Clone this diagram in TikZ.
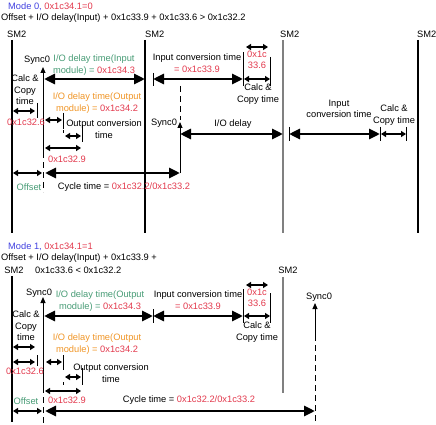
\documentclass[tikz,border=0pt]{standalone}
\usepackage{fontspec}
\setmainfont{Liberation Sans}
\usetikzlibrary{arrows.meta}
\definecolor{modeblue}{RGB}{64,64,224}
\definecolor{valred}{RGB}{226,56,76}
\definecolor{delaygreen}{RGB}{72,156,118}
\definecolor{delayorange}{RGB}{240,150,40}

\begin{document}
\begin{tikzpicture}[x=1pt,y=-1pt,
  txt/.style={font=\fontsize{9.3}{11.5}\selectfont, inner sep=0pt, align=center},
  big/.style={line width=2.8pt, {Triangle[length=11pt,width=10pt]}-{Triangle[length=11pt,width=10pt]}},
  small/.style={line width=1.5pt, {Triangle[length=5pt,width=6pt]}-{Triangle[length=5pt,width=6pt]}},
  sm2line/.style={line width=1.1pt},
  tickline/.style={line width=0.8pt},
  syncarrow/.style={line width=1pt, -{Triangle[length=6pt,width=5pt]}},
  syncdash/.style={line width=1pt, dash pattern=on 6pt off 4pt}]

\useasboundingbox (0,0) rectangle (436,425);

% ---------------- Mode 0 ----------------
\node[txt,anchor=west] (mode0) at (8,7) {\textcolor{modeblue}{Mode 0,} \textcolor{valred}{0x1c34.1=0}};
\node[txt,anchor=west] (cond0) at (1,18) {Offset + I/O delay(Input) + 0x1c33.9 + 0x1c33.6 > 0x1c32.2};

\node[txt,anchor=west] (sm2a) at (7,34) {SM2};
\node[txt,anchor=west] (sm2b) at (145,34) {SM2};
\node[txt,anchor=west] (sm2c) at (280,34) {SM2};
\node[txt,anchor=west] (sm2d) at (417,34) {SM2};

\coordinate (a1) at (12,40);  \coordinate (a2) at (12,233);
\coordinate (b1) at (145,40); \coordinate (b2) at (145,233);
\coordinate (c1) at (283,40); \coordinate (c2) at (283,233);
\coordinate (d1) at (418,40); \coordinate (d2) at (418,233);
\draw[sm2line] (a1)--(a2);
\draw[sm2line] (b1)--(b2);
\draw[sm2line,gray] (c1)--(c2);
\draw[sm2line] (d1)--(d2);

% Sync0 (left)
\node[txt] (syncA) at (37,60) {Sync0};
\coordinate (sA1) at (43,67); \coordinate (sA2) at (43,152); \coordinate (sA3) at (43,192);
\draw[syncarrow] (sA2)--(sA1);
\draw[syncdash] (sA2)--(sA3);

% I/O delay time (input module)
\node[txt] (ioin) at (94,65) {\textcolor{delaygreen}{I/O delay time(Input}\\\textcolor{delaygreen}{module) =} \textcolor{valred}{0x1c34.3}};
\coordinate (ioin1) at (44,79); \coordinate (ioin2) at (145,79);
\draw[big] (ioin1)--(ioin2);

% input conversion time
\node[txt] (convA) at (197,63) {Input conversion time\\\textcolor{valred}{= 0x1c33.9}};
\coordinate (t1a) at (153,73); \coordinate (t1b) at (153,86);
\draw[tickline] (t1a)--(t1b);
\coordinate (cvA1) at (153,79); \coordinate (cvA2) at (243,79);
\draw[big] (cvA1)--(cvA2);

% 0x1c33.6, calc & copy
\coordinate (t2a) at (243,52); \coordinate (t2b) at (243,86);
\coordinate (t3a) at (270,57); \coordinate (t3b) at (270,86);
\draw[tickline] (t2a)--(t2b);
\draw[tickline] (t3a)--(t3b);
\coordinate (topA1) at (246,47); \coordinate (topA2) at (268,47);
\draw[small] (topA1)--(topA2);
\node[txt,text=valred] (c336A) at (257,60) {0x1c\\33.6};
\coordinate (ccA1) at (244,79); \coordinate (ccA2) at (270,79);
\draw[small] (ccA1)--(ccA2);
\node[txt] (calcA) at (258,94) {Calc \&\\Copy time};

% Sync0 (middle)
\coordinate (dsh1) at (180,86); \coordinate (dsh2) at (180,120);
\draw[syncdash] (dsh1)--(dsh2);
\node[txt] (syncB) at (164,123) {Sync0};
\coordinate (sB1) at (180,122); \coordinate (sB2) at (180,173);
\draw[syncarrow] (sB2)--(sB1);

% I/O delay
\node[txt] (iodel) at (233,124) {I/O delay};
\coordinate (iod1) at (180,134); \coordinate (iod2) at (283,134);
\draw[big] (iod1)--(iod2);

% input conversion time (second)
\coordinate (t4a) at (289,127); \coordinate (t4b) at (289,141);
\coordinate (t5a) at (380,127); \coordinate (t5b) at (380,141);
\coordinate (t6a) at (406,127); \coordinate (t6b) at (406,141);
\draw[tickline] (t4a)--(t4b);
\draw[tickline] (t5a)--(t5b);
\draw[tickline] (t6a)--(t6b);
\node[txt] (convB) at (339,109) {Input\\conversion time};
\coordinate (cvB1) at (289,134); \coordinate (cvB2) at (380,134);
\draw[big] (cvB1)--(cvB2);
\node[txt] (calcB) at (394,115) {Calc \&\\Copy time};
\coordinate (ccB1) at (381,134); \coordinate (ccB2) at (406,134);
\draw[small] (ccB1)--(ccB2);

% calc & copy (left)
\node[txt] (calcL) at (25,90) {Calc \&\\Copy\\time};
\coordinate (clA1) at (13,111); \coordinate (clA2) at (35,111);
\draw[small] (clA1)--(clA2);
\coordinate (t7a) at (37,103); \coordinate (t7b) at (37,118);
\draw[tickline] (t7a)--(t7b);
\node[txt,text=valred] (c326A) at (26,122) {0x1c32.6};

% I/O delay time (output module)
\node[txt] (ioout) at (97,103) {\textcolor{delayorange}{I/O delay time(Output}\\\textcolor{delayorange}{module) =} \textcolor{valred}{0x1c34.2}};
\coordinate (odA1) at (45,120); \coordinate (odA2) at (62,120);
\draw[small] (odA1)--(odA2);
\coordinate (t8a) at (63,113); \coordinate (t8b) at (63,129);
\draw[tickline] (t8a)--(t8b);
\coordinate (dotA1) at (63,130); \coordinate (dotA2) at (63,133);
\draw[tickline] (dotA1)--(dotA2);

% output conversion time
\node[txt] (ocA) at (104,129) {Output conversion\\time};
\coordinate (ocA1) at (65,136); \coordinate (ocA2) at (81,136);
\draw[small] (ocA1)--(ocA2);
\coordinate (t9a) at (82,125); \coordinate (t9b) at (82,142);
\draw[tickline] (t9a)--(t9b);

% 0x1c32.9
\coordinate (c9A1) at (45,148); \coordinate (c9A2) at (81,148);
\draw[small] (c9A1)--(c9A2);
\node[txt,text=valred] (c329A) at (67,159) {0x1c32.9};

% offset, cycle time
\coordinate (ofA1) at (13,173); \coordinate (ofA2) at (42,173);
\draw[small] (ofA1)--(ofA2);
\node[txt,text=delaygreen] (offA) at (29,187) {Offset};
\coordinate (cyA1) at (45,173); \coordinate (cyA2) at (180,173);
\draw[big] (cyA1)--(cyA2);
\node[txt] (cycA) at (124,187) {Cycle time = \textcolor{valred}{0x1c32.2/0x1c33.2}};

% ---------------- Mode 1 ----------------
\node[txt,anchor=west] (mode1) at (8,247) {\textcolor{modeblue}{Mode 1,} \textcolor{valred}{0x1c34.1=1}};
\node[txt,anchor=west] (cond1) at (1,258) {Offset + I/O delay(Input) + 0x1c33.9 +};
\node[txt] (sm2e) at (14,270) {SM2};
\node[txt,anchor=west] (cond1b) at (35,270) {0x1c33.6 < 0x1c32.2};
\node[txt] (sm2f) at (288,270) {SM2};

\coordinate (e1) at (12,276);  \coordinate (e2) at (12,422);
\coordinate (f1) at (283,277); \coordinate (f2) at (283,393);
\draw[sm2line] (e1)--(e2);
\draw[sm2line,gray] (f1)--(f2);

% Sync0 (left)
\node[txt] (syncC) at (39,293) {Sync0};
\coordinate (sC1) at (43,297); \coordinate (sC2) at (43,387); \coordinate (sC3) at (43,423);
\draw[syncarrow] (sC2)--(sC1);
\draw[syncdash] (sC2)--(sC3);

% I/O delay time (output module)
\node[txt] (iooutB) at (100,301) {\textcolor{delaygreen}{I/O delay time(Output}\\\textcolor{delaygreen}{module) =} \textcolor{valred}{0x1c34.3}};
\coordinate (iob1) at (44,316); \coordinate (iob2) at (153,316);
\draw[big] (iob1)--(iob2);
\coordinate (u1a) at (153,309); \coordinate (u1b) at (153,323);
\draw[tickline] (u1a)--(u1b);

% input conversion time
\node[txt] (convC) at (198,300) {Input conversion time\\\textcolor{valred}{= 0x1c33.9}};
\coordinate (cvC1) at (153,316); \coordinate (cvC2) at (243,316);
\draw[big] (cvC1)--(cvC2);

% 0x1c33.6, calc & copy
\coordinate (u2a) at (243,289); \coordinate (u2b) at (243,323);
\coordinate (u3a) at (270,293); \coordinate (u3b) at (270,323);
\draw[tickline] (u2a)--(u2b);
\draw[tickline] (u3a)--(u3b);
\coordinate (topC1) at (246,285); \coordinate (topC2) at (268,285);
\draw[small] (topC1)--(topC2);
\node[txt,text=valred] (c336C) at (257,298) {0x1c\\33.6};
\coordinate (ccC1) at (244,316); \coordinate (ccC2) at (270,316);
\draw[small] (ccC1)--(ccC2);
\node[txt] (calcC) at (257,332) {Calc \&\\Copy time};

% Sync0 (right)
\node[txt] (syncD) at (319,297) {Sync0};
\coordinate (sD1) at (315,303); \coordinate (sD2) at (315,335); \coordinate (sD3) at (315,425);
\draw[syncarrow] (sD2)--(sD1);
\draw[syncdash] (sD2)--(sD3);

% calc & copy (left)
\node[txt] (calcLB) at (26,326) {Calc \&\\Copy\\time};
\coordinate (clB1) at (13,347); \coordinate (clB2) at (35,347);
\draw[small] (clB1)--(clB2);
\coordinate (clC1) at (13,362); \coordinate (clC2) at (35,362);
\draw[small] (clC1)--(clC2);
\coordinate (u7a) at (37,355); \coordinate (u7b) at (37,366);
\draw[tickline] (u7a)--(u7b);
\node[txt,text=valred] (c326B) at (25,371) {0x1c32.6};

% I/O delay time (output module)
\node[txt] (iooutC) at (97,344) {\textcolor{delayorange}{I/O delay time(Output}\\\textcolor{delayorange}{module) =} \textcolor{valred}{0x1c34.2}};
\coordinate (odB1) at (46,362); \coordinate (odB2) at (62,362);
\draw[small] (odB1)--(odB2);
\coordinate (u8a) at (63,355); \coordinate (u8b) at (63,370);
\draw[tickline] (u8a)--(u8b);
\coordinate (dotB1) at (63,382); \coordinate (dotB2) at (63,385);
\draw[tickline] (dotB1)--(dotB2);

% output conversion time
\node[txt] (ocB) at (111,373) {Output conversion\\time};
\coordinate (ocB1) at (65,377); \coordinate (ocB2) at (81,377);
\draw[small] (ocB1)--(ocB2);
\coordinate (u9a) at (82,368); \coordinate (u9b) at (82,385);
\draw[tickline] (u9a)--(u9b);

% 0x1c32.9
\coordinate (c9B1) at (45,391); \coordinate (c9B2) at (81,391);
\draw[small] (c9B1)--(c9B2);
\node[txt,text=valred] (c329B) at (67,400) {0x1c32.9};

% offset, cycle time
\coordinate (ofB1) at (13,411); \coordinate (ofB2) at (42,411);
\draw[small] (ofB1)--(ofB2);
\node[txt,text=delaygreen] (offB) at (26,401) {Offset};
\coordinate (cyB1) at (45,411); \coordinate (cyB2) at (315,411);
\draw[big] (cyB1)--(cyB2);
\node[txt] (cycB) at (189,400) {Cycle time = \textcolor{valred}{0x1c32.2/0x1c33.2}};

\end{tikzpicture}
\end{document}
